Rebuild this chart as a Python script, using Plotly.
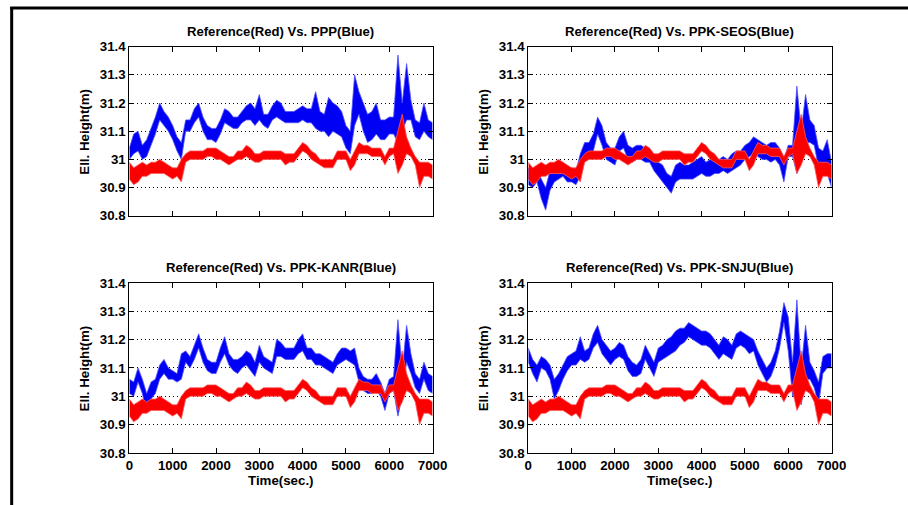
import plotly.graph_objects as go

# ---------------- data (100 s steps) ----------------
time_s = list(range(0, 7001, 100))

ref_lo = [30.93,30.91,30.92,30.94,30.94,30.95,30.95,30.95,30.95,30.94,
          30.93,30.94,30.92,30.99,31.00,31.00,31.00,31.00,31.01,31.01,
          31.00,31.00,30.99,30.98,30.99,31.00,31.00,31.01,31.00,30.99,
          30.99,31.00,31.00,31.00,31.00,31.00,30.98,30.99,30.99,31.01,
          31.03,31.02,31.00,30.99,30.98,30.97,30.97,30.97,31.00,31.00,
          31.00,30.96,30.98,31.02,31.02,31.02,31.01,31.01,31.01,30.98,
          31.01,31.02,30.95,30.98,31.02,31.01,30.98,30.90,30.94,30.94,
          30.93]
ref_hi = [30.99,30.97,30.98,30.99,30.98,30.99,30.99,31.00,30.99,30.98,
          30.97,30.97,31.00,31.02,31.03,31.03,31.03,31.03,31.04,31.04,
          31.04,31.03,31.02,31.01,31.01,31.03,31.03,31.05,31.04,31.02,
          31.02,31.03,31.03,31.03,31.03,31.03,31.02,31.02,31.02,31.04,
          31.06,31.05,31.03,31.02,31.00,31.00,31.00,31.00,31.03,31.03,
          31.03,31.00,31.03,31.06,31.05,31.05,31.04,31.04,31.04,31.01,
          31.04,31.04,31.10,31.16,31.08,31.04,31.01,30.99,30.99,30.99,
          30.98]

ppp_lo = [31.00,31.02,31.03,31.00,31.01,31.05,31.09,31.14,31.12,31.10,
          31.07,31.03,31.00,31.10,31.10,31.13,31.15,31.10,31.07,31.07,
          31.06,31.09,31.13,31.12,31.11,31.11,31.13,31.14,31.14,31.12,
          31.14,31.12,31.11,31.14,31.15,31.14,31.13,31.13,31.13,31.13,
          31.14,31.13,31.13,31.11,31.10,31.10,31.08,31.10,31.09,31.08,
          31.04,31.02,31.12,31.16,31.10,31.06,31.07,31.09,31.07,31.07,
          31.09,31.09,31.06,31.10,31.14,31.14,31.08,31.07,31.10,31.08,
          31.07]
ppp_hi = [31.04,31.09,31.10,31.05,31.07,31.11,31.15,31.20,31.17,31.15,
          31.12,31.08,31.06,31.14,31.14,31.18,31.20,31.15,31.12,31.11,
          31.11,31.14,31.18,31.17,31.15,31.15,31.17,31.19,31.20,31.18,
          31.23,31.16,31.16,31.19,31.21,31.20,31.17,31.17,31.17,31.18,
          31.19,31.18,31.18,31.24,31.17,31.16,31.22,31.20,31.19,31.17,
          31.12,31.10,31.30,31.24,31.20,31.16,31.17,31.20,31.14,31.14,
          31.15,31.15,31.37,31.20,31.34,31.21,31.14,31.13,31.20,31.14,
          31.13]

seos_lo = [30.91,30.90,30.92,30.86,30.82,30.89,30.92,30.93,30.94,30.92,
           30.92,30.91,30.94,31.01,31.01,31.03,31.09,31.05,31.00,30.99,
           30.98,31.03,31.04,31.00,30.99,31.00,31.00,30.99,30.99,30.96,
           30.94,30.92,30.90,30.88,30.92,30.93,30.93,30.93,30.93,30.94,
           30.95,30.94,30.94,30.95,30.95,30.96,30.95,30.96,30.97,30.98,
           31.00,31.01,31.02,31.01,31.00,31.00,30.99,31.00,30.98,30.92,
           31.01,31.01,30.95,31.00,31.06,31.06,31.05,30.97,30.97,30.95,
           30.90]
seos_hi = [30.97,30.95,30.97,30.93,30.90,30.96,30.97,30.98,30.99,30.97,
           30.97,30.96,31.02,31.06,31.06,31.09,31.15,31.12,31.06,31.04,
           31.04,31.08,31.10,31.05,31.04,31.05,31.05,31.04,31.04,31.01,
           30.99,30.98,30.95,30.94,30.98,30.99,30.98,30.98,30.99,31.00,
           31.01,30.99,31.00,31.00,31.00,31.01,31.00,31.02,31.03,31.03,
           31.05,31.06,31.08,31.07,31.06,31.05,31.06,31.06,31.04,31.00,
           31.05,31.05,31.26,31.10,31.23,31.14,31.12,31.04,31.03,31.07,
           30.99]

kanr_lo = [31.01,31.00,31.05,31.01,30.94,30.99,31.01,31.06,31.08,31.06,
           31.06,31.05,31.06,31.12,31.10,31.13,31.17,31.12,31.09,31.08,
           31.08,31.12,31.15,31.11,31.09,31.08,31.10,31.11,31.09,31.07,
           31.12,31.10,31.09,31.08,31.14,31.14,31.13,31.13,31.13,31.15,
           31.16,31.13,31.13,31.11,31.11,31.10,31.09,31.08,31.11,31.12,
           31.13,31.12,31.11,31.05,31.02,31.01,31.01,31.02,31.00,30.95,
           31.01,31.02,30.93,31.00,31.12,31.08,31.03,31.01,31.06,31.02,
           31.01]
kanr_hi = [31.06,31.05,31.10,31.06,31.01,31.05,31.06,31.11,31.13,31.10,
           31.09,31.08,31.15,31.16,31.14,31.18,31.22,31.17,31.13,31.12,
           31.12,31.17,31.21,31.15,31.13,31.13,31.14,31.16,31.15,31.12,
           31.18,31.14,31.13,31.12,31.20,31.19,31.17,31.17,31.17,31.20,
           31.22,31.17,31.17,31.15,31.15,31.14,31.13,31.12,31.15,31.17,
           31.17,31.16,31.17,31.10,31.07,31.06,31.06,31.08,31.05,31.01,
           31.06,31.07,31.27,31.09,31.25,31.15,31.08,31.06,31.12,31.08,
           31.07]

snju_lo = [31.12,31.08,31.05,31.10,31.09,31.06,30.99,31.02,31.06,31.09,
           31.11,31.11,31.13,31.12,31.13,31.17,31.19,31.15,31.13,31.11,
           31.13,31.14,31.13,31.09,31.07,31.07,31.08,31.13,31.10,31.07,
           31.12,31.13,31.14,31.15,31.16,31.18,31.19,31.21,31.20,31.19,
           31.18,31.18,31.17,31.15,31.13,31.15,31.14,31.13,31.17,31.18,
           31.17,31.15,31.16,31.11,31.08,31.05,31.07,31.11,31.17,31.26,
           31.16,31.00,30.99,30.97,31.06,31.06,31.03,30.97,31.08,31.10,
           31.10]
snju_hi = [31.17,31.13,31.11,31.14,31.13,31.11,31.06,31.08,31.11,31.14,
           31.15,31.16,31.21,31.16,31.17,31.22,31.25,31.20,31.18,31.16,
           31.17,31.19,31.18,31.14,31.12,31.11,31.13,31.18,31.15,31.12,
           31.17,31.18,31.20,31.21,31.23,31.24,31.24,31.26,31.25,31.24,
           31.23,31.23,31.22,31.20,31.18,31.21,31.20,31.18,31.22,31.23,
           31.22,31.21,31.20,31.16,31.13,31.10,31.12,31.16,31.23,31.33,
           31.28,31.12,31.34,31.10,31.25,31.12,31.09,31.05,31.14,31.15,
           31.15]

panel_titles = ["Reference(Red) Vs. PPP(Blue)", "Reference(Red) Vs. PPK-SEOS(Blue)",
                "Reference(Red) Vs. PPK-KANR(Blue)", "Reference(Red) Vs. PPK-SNJU(Blue)"]
blue_series = [(ppp_lo, ppp_hi), (seos_lo, seos_hi), (kanr_lo, kanr_hi), (snju_lo, snju_hi)]
y_tick_vals = [30.8, 30.9, 31.0, 31.1, 31.2, 31.3, 31.4]
y_tick_text = ["30.8", "30.9", "31", "31.1", "31.2", "31.3", "31.4"]
x_tick_vals = [0, 1000, 2000, 3000, 4000, 5000, 6000, 7000]
y_title = "Ell. Height(m)"
x_title = "Time(sec.)"

# ---------------- layout geometry ----------------
# Calibration of the capture: picture = scale * page + offset (measured).
SX, OX = 0.982, 2.3
SY, OY = 0.970, 7.4
W, H = 924, 514
FONT = "Liberation Sans, Arial, sans-serif"
FS = 1 / ((SX + SY) / 2)


def px(x):
    return ((x - OX) / SX) / W


def py(y):
    return 1 - ((y - OY) / SY) / H


# target picture-pixel boxes: (left, right, top, bottom)
boxes = [(128, 432, 47, 216), (528, 832, 47, 216),
         (128, 432, 283, 453), (528, 832, 283, 453)]

fig = go.Figure()


def band(lo, hi, color, fillcolor, ax):
    xa = "x" if ax == 1 else f"x{ax}"
    ya = "y" if ax == 1 else f"y{ax}"
    fig.add_trace(go.Scatter(x=time_s, y=lo, mode="lines", xaxis=xa, yaxis=ya,
                             line=dict(color=color, width=0.8), showlegend=False,
                             hoverinfo="skip"))
    fig.add_trace(go.Scatter(x=time_s, y=hi, mode="lines", xaxis=xa, yaxis=ya,
                             line=dict(color=color, width=0.8), fill="tonexty",
                             fillcolor=fillcolor, showlegend=False, hoverinfo="skip"))


for i, (blo, bhi) in enumerate(blue_series):
    ax = i + 1
    band(blo, bhi, "rgb(80,80,255)", "rgb(0,0,245)", ax)
    band(ref_lo, ref_hi, "rgb(255,90,90)", "rgb(250,0,0)", ax)

tick_font = dict(family=FONT, size=13 * FS, color="black", weight="bold")
annotations = []
layout_axes = {}
for i, (l, r, t, b) in enumerate(boxes):
    ax = i + 1
    xname = "xaxis" if ax == 1 else f"xaxis{ax}"
    yname = "yaxis" if ax == 1 else f"yaxis{ax}"
    xa = "x" if ax == 1 else f"x{ax}"
    ya = "y" if ax == 1 else f"y{ax}"
    bottom_row = i >= 2
    layout_axes[xname] = dict(
        domain=[px(l), px(r)], anchor=ya, range=[0, 7000],
        tickvals=x_tick_vals, showticklabels=bottom_row,
        ticks="inside", ticklen=5, tickcolor="black", mirror="ticks",
        showline=True, linecolor="black", linewidth=1,
        showgrid=False, zeroline=False, tickfont=tick_font,
    )
    layout_axes[yname] = dict(
        domain=[py(b), py(t)], anchor=xa, range=[30.8, 31.4],
        tickvals=y_tick_vals, ticktext=y_tick_text,
        ticks="inside", ticklen=5, tickcolor="black", mirror="ticks",
        showline=True, linecolor="black", linewidth=1,
        showgrid=True, gridcolor="black", gridwidth=1, griddash="1px,3px",
        zeroline=False, tickfont=tick_font,
    )
    cx = (l + r) / 2
    annotations.append(dict(text=panel_titles[i], x=px(cx), y=py(t - 15),
                            xref="paper", yref="paper", showarrow=False,
                            xanchor="center", yanchor="middle",
                            font=dict(family=FONT, size=12.8 * FS, color="black", weight="bold")))
    annotations.append(dict(text=y_title, x=px(l - 45), y=py((t + b) / 2),
                            xref="paper", yref="paper", showarrow=False, textangle=-90,
                            xanchor="center", yanchor="middle",
                            font=dict(family=FONT, size=13 * FS, color="black", weight="bold")))
    if bottom_row:
        annotations.append(dict(text=x_title, x=px(cx), y=py(b + 28),
                                xref="paper", yref="paper", showarrow=False,
                                xanchor="center", yanchor="middle",
                                font=dict(family=FONT, size=13 * FS, color="black", weight="bold")))

shapes = [
    dict(type="line", xref="paper", yref="paper", x0=px(10), x1=px(10),
         y0=1, y1=0, line=dict(color="black", width=3)),
    dict(type="line", xref="paper", yref="paper", x0=px(8.5), x1=1,
         y0=py(8.5), y1=py(8.5), line=dict(color="black", width=3)),
]

fig.update_layout(
    width=W, height=H, margin=dict(l=0, r=0, t=0, b=0),
    paper_bgcolor="white", plot_bgcolor="white",
    showlegend=False, annotations=annotations, shapes=shapes,
    **layout_axes,
)

fig.write_html("out.html", config={"displayModeBar": False},
               post_script="document.body.style.margin='0px';document.body.style.overflow='hidden';")
